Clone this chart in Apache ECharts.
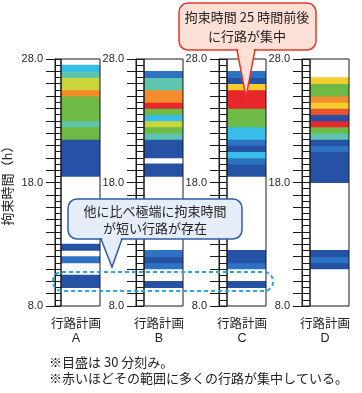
<!DOCTYPE html>
<html><head><meta charset="utf-8">
<script src="https://cdn.jsdelivr.net/npm/echarts@6/dist/echarts.min.js"></script>
<style>html,body{margin:0;padding:0;background:#fff}#c{width:362px;height:393px}</style>
</head><body><div id="c"></div>
<script>
// ---- data ----
const plans = ['A', 'B', 'C', 'D'];
const planTitle = '行路計画';
const yTickLabels = [8, 18, 28];
const slotStart = 8;      // hours
const slotSize = 0.5;     // 30-minute slots
// concentration level per 30-min slot, from 8.0 upward (0 = no route)
const levelA = [0,0,0,1,1,0,0,2,0,1, 0,0,0,0,0,0,0,0,0,0, 0,1,1,1,1,1,1,5,5,4,5,5,5,5,8,6,6,4,3,0];
const levelB = [0,0,0,1,0,0,2,1,2,0, 0,0,0,0,0,0,0,0,0,0, 0,1,1,0,1,1,1,4,5,6,3,5,10,8,8,4,4,2,0,0];
const levelC = [0,0,0,1,0,0,2,1,1,0, 0,0,0,0,0,0,0,0,0,0, 0,1,1,2,3,1,2,3,3,5,5,5,10,10,10,7,1,2,0,0];
const levelD = [0,0,0,0,0,0,1,2,1,0, 0,0,0,0,0,0,0,0,0,0, 1,1,1,1,1,2,1,4,5,10,1,9,7,8,5,5,7,0,0,0];
const levels = [levelA, levelB, levelC, levelD];
// colour per level (blue = few routes ... red = many)
const levelColors = ['#ffffff','#2552a4','#2e72c3','#38bde8','#5fc4ae','#6dbb46','#c8d63a','#f5cd2c','#f48c2c','#ea5530','#e9262b'];

// ---- layout ----
const colStep = 83, ladderLeft = 53, ladderW = 8, boxW = 39, gridTop = 59, gridH = 247;
const lineCol = '#1a1a1a';
const grids = [], xAxes = [], yAxes = [], series = [];
plans.forEach((p, k) => {
  const off = k * colStep;
  grids.push({left: ladderLeft + off, top: gridTop, width: ladderW, height: gridH, show: true, borderColor: lineCol, borderWidth: 1, z: 5});
  grids.push({left: ladderLeft + ladderW + off, top: gridTop, width: boxW, height: gridH, show: true, borderColor: lineCol, borderWidth: 1, z: 5});
  xAxes.push({gridIndex: 2*k, type: 'value', min: 0, max: 1, show: false});
  xAxes.push({gridIndex: 2*k+1, type: 'category', data: [p],
    axisLine: {show: false}, axisTick: {show: false},
    axisLabel: {margin: 9, padding: [0, 9, 0, 0], formatter: v => '{t|' + planTitle + '}\n{l|' + v + '}',
      rich: {t: {fontFamily: '"Noto Sans CJK JP"', fontSize: 12.5, color: '#222', lineHeight: 16},
             l: {fontFamily: '"Liberation Sans", Arial', fontSize: 12.5, color: '#222', lineHeight: 16}}}});
  yAxes.push({gridIndex: 2*k, type: 'value', min: 8, max: 28, interval: 1,
    name: k === 0 ? '拘束時間（h）' : '', nameLocation: 'middle', nameGap: 41, nameRotate: 90,
    nameTextStyle: {fontFamily: '"Noto Sans CJK JP"', fontSize: 13, color: '#222'},
    axisLine: {show: true, lineStyle: {color: lineCol, width: 1}},
    axisTick: {show: true, length: 9, lineStyle: {color: lineCol, width: 1}},
    axisLabel: {margin: 12, fontSize: 11, color: '#231f20', fontFamily: '"Liberation Sans", Arial',
      formatter: v => yTickLabels.includes(v) ? v.toFixed(1) : ''},
    splitLine: {show: true, lineStyle: {color: lineCol, width: 1}},
    minorTick: {show: false, splitNumber: 2},
    minorSplitLine: {show: true, lineStyle: {color: lineCol, width: 1}}});
  yAxes.push({gridIndex: 2*k+1, type: 'value', min: 8, max: 28, show: false});
  // merge consecutive slots of equal level into one band
  const data = [];
  levels[k].forEach((lv, i) => {
    if (lv === 0) return;
    const s = slotStart + i*slotSize, e = s + slotSize;
    const last = data[data.length - 1];
    if (last && last[3] === lv && last[2] === s) last[2] = e;
    else data.push([0, s, e, lv]);
  });
  series.push({type: 'custom', xAxisIndex: 2*k+1, yAxisIndex: 2*k+1, z: 1, silent: true,
    encode: {x: 0, y: [1, 2]}, data,
    renderItem: (params, api) => {
      const cs = params.coordSys;
      const a = api.coord([0, api.value(2)]);
      const b = api.coord([0, api.value(1)]);
      return {type: 'rect', shape: {x: cs.x, y: a[1] - 0.4, width: cs.width, height: b[1] - a[1] + 0.8},
        style: {fill: levelColors[api.value(3)], stroke: null}};
    }});
});

// callout bubble: rounded box + pointer triangle + cover line hiding the box edge under the pointer base
function callout(x0, y0, x1, y1, r, bx0, bx1, tx, ty, fill, stroke) {
  return [
    {type: 'rect', z: 100, shape: {x: x0, y: y0, width: x1 - x0, height: y1 - y0, r}, style: {fill, stroke, lineWidth: 1.5}},
    {type: 'polygon', z: 101, shape: {points: [[bx0, y1], [tx, ty], [bx1, y1]]}, style: {fill, stroke, lineWidth: 1.5}},
    {type: 'line', z: 102, shape: {x1: bx0 + 1.2, y1: y1, x2: bx1 - 1.2, y2: y1}, style: {stroke: fill, lineWidth: 2.5}}
  ];
}
const jp = '"Noto Sans CJK JP"';
const txt = (x, y, text, align) => ({type: 'text', z: 103, x, y,
  style: {text, font: '13px ' + jp, fill: '#222', align: align || 'center', verticalAlign: 'middle'}});
const graphic = [
  ...callout(179, 3, 316, 50, 9, 237, 255, 246, 97, '#fde0d5', '#e3372b'),
  txt(247, 17, '拘束時間 25 時間前後'),
  txt(247, 36, 'に行路が集中'),
  ...callout(68, 199, 242, 239, 9, 101, 122, 112, 267, '#e4edf8', '#2d5ea8'),
  txt(155, 211, '他に比べ極端に拘束時間'),
  txt(155, 228, 'が短い行路が存在'),
  {type: 'rect', z: 104, shape: {x: 53, y: 272, width: 220, height: 19, r: 9},
   style: {fill: 'none', stroke: '#2aa4dc', lineWidth: 2, lineDash: [4, 3]}},
  txt(49, 362, '※目盛は 30 分刻み。', 'left'),
  txt(49, 378, '※赤いほどその範囲に多くの行路が集中している。', 'left')
];

const chart = echarts.init(document.getElementById('c'), null, {renderer: 'canvas'});
chart.setOption({animation: false, backgroundColor: '#fff', grid: grids, xAxis: xAxes, yAxis: yAxes, series, graphic});
</script></body></html>
